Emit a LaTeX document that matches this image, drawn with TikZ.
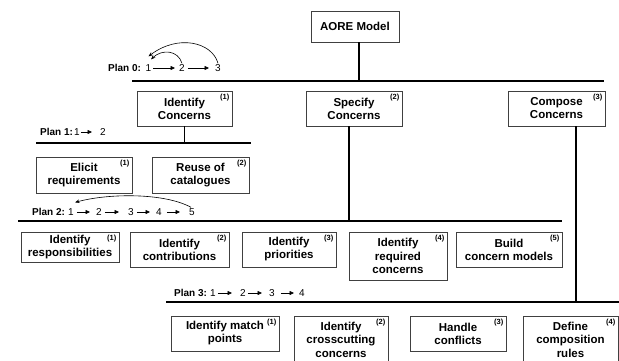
\documentclass[tikz,border=0pt]{standalone}
\usepackage{fontspec}
\setmainfont{Liberation Sans}
\usetikzlibrary{arrows.meta,calc}
\begin{document}
\begin{tikzpicture}[x=1pt,y=-1pt,
  box/.style={draw=black!75,line width=0.9pt,fill=white,align=center,inner sep=0pt,
     font=\fontsize{11.5}{13}\selectfont\bfseries},
  boxthree/.style={box,font=\fontsize{11.5}{13.6}\selectfont\bfseries},
  num/.style={inner sep=1pt,font=\fontsize{10}{12}\selectfont},
  plan/.style={inner sep=0pt,anchor=west,font=\fontsize{10}{12}\selectfont\bfseries},
  tag/.style={inner sep=0pt,anchor=north east,font=\fontsize{7.5}{8}\selectfont\bfseries},
  bar/.style={line width=1.8pt},
  conn/.style={line width=1.4pt},
  numarr/.style={line width=0.6pt,-{Triangle[length=4.5pt,width=4pt]}},
  carr/.style={line width=0.6pt,-{Stealth[length=4.5pt,width=3.5pt]}}
]
\useasboundingbox (0,0) rectangle (619,360);
\clip (0,0) rectangle (619,360);

% ---------- boxes ----------
\node[box,minimum width=88pt,minimum height=31pt] (aore) at (355,26.5) {AORE Model};

\node[box,minimum width=95pt,minimum height=35pt] (ic) at (184.5,108.5) {Identify\\Concerns};
\node[box,minimum width=96pt,minimum height=35pt] (sc) at (354,108.5) {Specify\\Concerns};
\node[box,minimum width=97pt,minimum height=35pt] (cc) at (556.5,108.5) {Compose\\Concerns};

\node[box,minimum width=96pt,minimum height=36pt] (er) at (84,175) {Elicit\\requirements};
\node[box,minimum width=97pt,minimum height=36pt] (rc) at (200.5,175) {Reuse of\\catalogues};

\node[box,minimum width=98pt,minimum height=30pt] (ir) at (70,247) {Identify\\responsibilities};
\node[box,minimum width=99pt,minimum height=35pt] (icn) at (179.5,249.5) {Identify\\contributions};
\node[box,minimum width=94pt,minimum height=35pt] (ip) at (289,249.5) {Identify\\priorities};
\node[boxthree,minimum width=98pt,minimum height=48pt] (irc) at (398,256) {Identify\\required\\concerns};
\node[box,minimum width=106pt,minimum height=35pt] (bcm) at (509,249.5) {Build\\concern models};

\node[box,minimum width=108pt,minimum height=35pt] (imp) at (225,333.5) {Identify match\\points};
\node[boxthree,minimum width=94pt,minimum height=47pt] (icc) at (341,339.5) {Identify\\crosscutting\\concerns};
\node[box,minimum width=96pt,minimum height=35pt] (hc) at (458,333.5) {Handle\\conflicts};
\node[boxthree,minimum width=95pt,minimum height=47pt] (dcr) at (570.5,339.5) {Define\\composition\\rules};

% ---------- tags ----------
\foreach \b/\t in {ic/(1),sc/(2),cc/(3),er/(1),rc/(2),ir/(1),icn/(2),ip/(3),irc/(4),bcm/(5),imp/(1),icc/(2),hc/(3),dcr/(4)}
  \node[tag] at ([xshift=-3pt,yshift=-3.5pt]\b.north east) {\t};

% ---------- bars ----------
\coordinate (b0L) at (132,81);  \coordinate (b0R) at (604,81);
\coordinate (b1L) at (36,143);  \coordinate (b1R) at (251,143);
\coordinate (b2L) at (18,221);  \coordinate (b2R) at (562,221);
\coordinate (b3L) at (166,302); \coordinate (b3R) at (620,302);
\draw[bar] (b0L) -- (b0R);
\draw[bar] (b1L) -- (b1R);
\draw[bar] (b2L) -- (b2R);
\draw[bar] (b3L) -- (b3R);

% ---------- vertical connectors ----------
\coordinate (aoreb) at ([xshift=4pt]aore.south);
\coordinate (scb) at ([xshift=-5pt]sc.south);
\coordinate (ccb) at ([xshift=19.5pt]cc.south);
\draw[conn] (aoreb) -- (aoreb |- b0L);
\draw[conn] (ic.south) -- (ic.south |- b1L);
\draw[conn] (scb) -- (scb |- b2L);
\draw[conn] (ccb) -- (ccb |- b3L);

% ---------- Plan 0 ----------
\node[plan] (pl0) at (108,68) {Plan 0:};
\node[num] (p0a) at (148.5,68) {1};
\node[num] (p0b) at (182,68) {2};
\node[num] (p0c) at (218,68) {3};
\draw[numarr,shorten <=1pt,shorten >=3pt] (p0a.east) -- (p0b.west);
\draw[numarr,shorten <=2pt,shorten >=5pt] (p0b.east) -- (p0c.west);
\draw[carr] (p0c.north) .. controls (212,42) and (178,34) .. ([yshift=7pt]p0a.north);
\draw[carr] (p0b.north) .. controls (178,50) and (162,49) .. ([xshift=2.5pt,yshift=4pt]p0a.north);

% ---------- Plan 1 ----------
\node[plan] (pl1) at (40,132) {Plan 1:};
\node[num] (p1a) at (77,132) {1};
\node[num] (p1b) at (103,132) {2};
\draw[numarr,shorten <=0pt,shorten >=7pt] (p1a.east) -- (p1b.west);

% ---------- Plan 2 ----------
\node[plan] (pl2) at (32,212) {Plan 2:};
\node[num] (p2a) at (71,212) {1};
\node[num] (p2b) at (99,212) {2};
\node[num] (p2c) at (131,212) {3};
\node[num] (p2d) at (159,212) {4};
\node[num] (p2e) at (192,212) {5};
\draw[numarr,shorten <=2pt,shorten >=5pt] (p2a.east) -- (p2b.west);
\draw[numarr,shorten <=2pt,shorten >=8pt] (p2b.east) -- (p2c.west);
\draw[numarr,shorten <=2pt,shorten >=5pt] (p2c.east) -- (p2d.west);
\draw[numarr,shorten <=4pt,shorten >=8pt] (p2d.east) -- (p2e.west);
\draw[carr] ([xshift=-1pt]p2e.north) .. controls (165,193) and (110,193) .. ([xshift=4pt,yshift=5pt]p2a.north);

% ---------- Plan 3 ----------
\node[plan] (pl3) at (174,293) {Plan 3:};
\node[num] (p3a) at (213,293) {1};
\node[num] (p3b) at (243,293) {2};
\node[num] (p3c) at (272,293) {3};
\node[num] (p3d) at (302,293) {4};
\draw[numarr,shorten <=1pt,shorten >=7pt] (p3a.east) -- (p3b.west);
\draw[numarr,shorten <=1pt,shorten >=6pt] (p3b.east) -- (p3c.west);
\draw[numarr,shorten <=5pt,shorten >=4pt] (p3c.east) -- (p3d.west);
\end{tikzpicture}
\end{document}
